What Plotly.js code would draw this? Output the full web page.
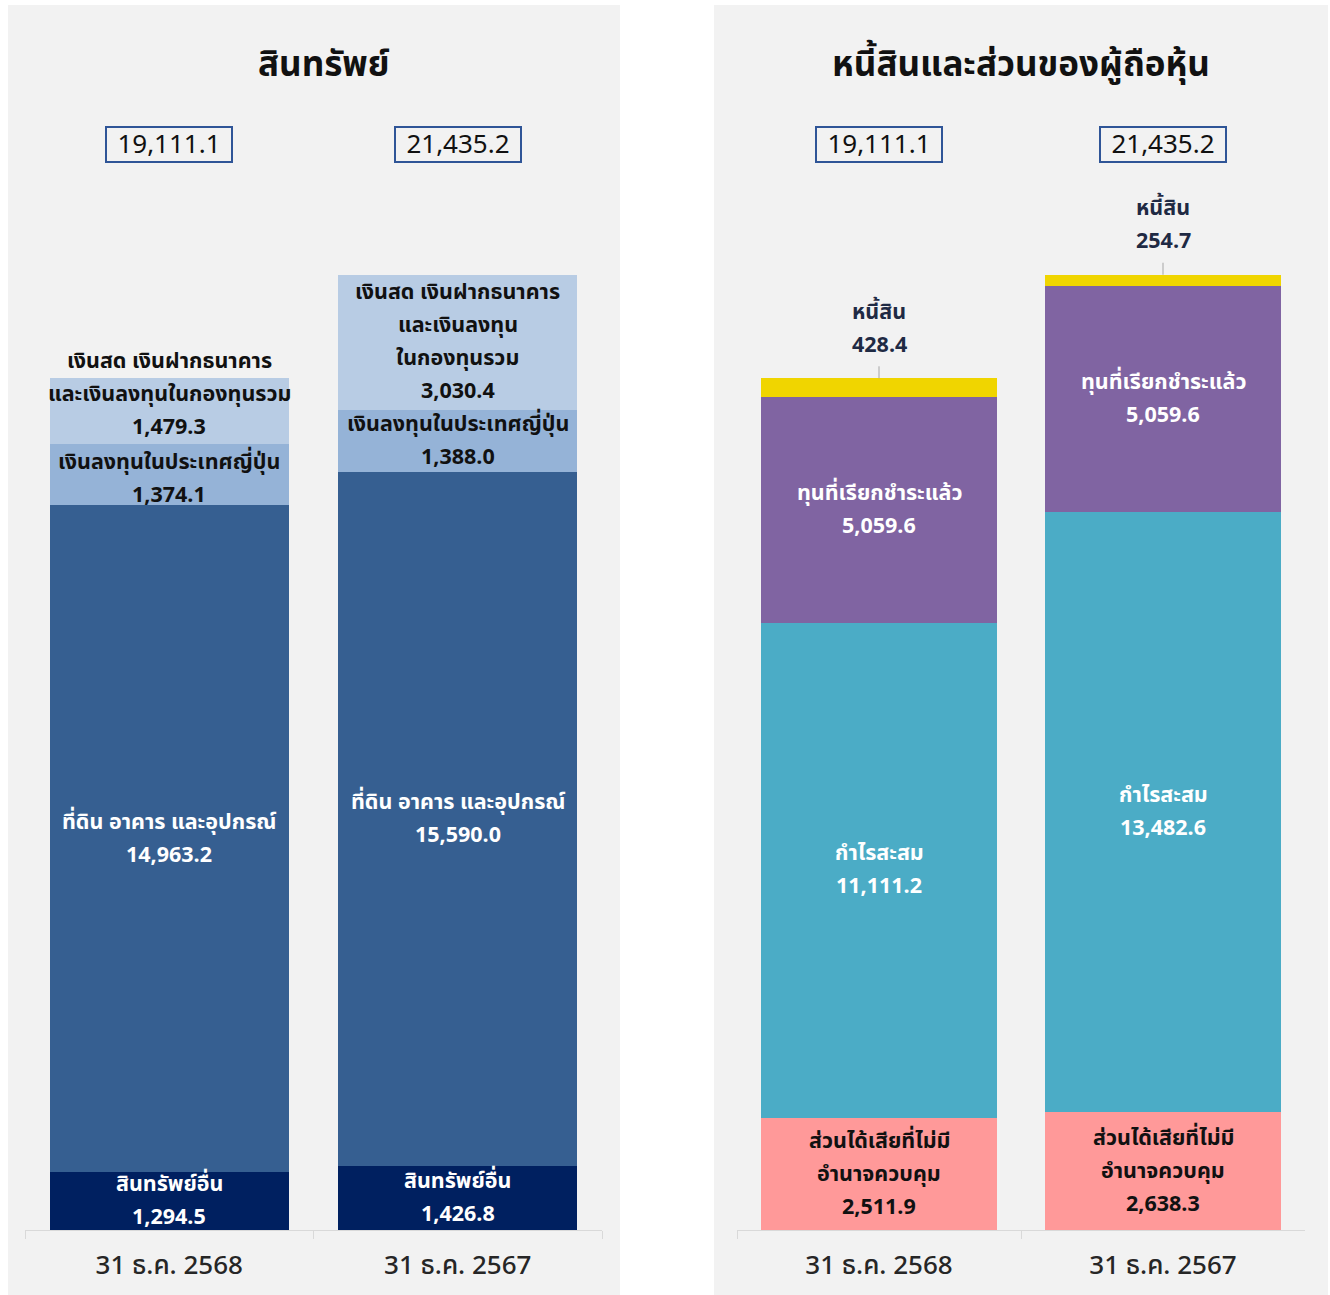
<!DOCTYPE html>
<html>
<head>
<meta charset="utf-8">
<script src="https://cdn.plot.ly/plotly-3.0.1.min.js"></script>
<style>html,body{margin:0;padding:0;background:#fff;}#chart{width:1330px;height:1295px;}</style>
</head>
<body>
<div id="chart"></div>
<script>
// ---- data ----
const categories = ['31 ธ.ค. 2568', '31 ธ.ค. 2567'];
const totals = [19111.1, 21435.2];

// assets (bottom to top)
const assetOther = [1294.5, 1426.8];
const assetPPE = [14963.2, 15590.0];
const assetJapan = [1374.1, 1388.0];
const assetCash = [1479.3, 3030.4];

// liabilities and equity (bottom to top)
const eqNCI = [2511.9, 2638.3];
const eqRetained = [11111.2, 13482.6];
const eqPaidUp = [5059.6, 5059.6];
const liabilities = [428.4, 254.7];

// segment label lines, per category
const lblAssetOther = [['สินทรัพย์อื่น'], ['สินทรัพย์อื่น']];
const lblAssetPPE = [['ที่ดิน อาคาร และอุปกรณ์'], ['ที่ดิน อาคาร และอุปกรณ์']];
const lblAssetJapan = [['เงินลงทุนในประเทศญี่ปุ่น'], ['เงินลงทุนในประเทศญี่ปุ่น']];
const lblAssetCash = [['เงินสด เงินฝากธนาคาร', 'และเงินลงทุนในกองทุนรวม'], ['เงินสด เงินฝากธนาคาร', 'และเงินลงทุน', 'ในกองทุนรวม']];
const lblNCI = [['ส่วนได้เสียที่ไม่มี', 'อำนาจควบคุม'], ['ส่วนได้เสียที่ไม่มี', 'อำนาจควบคุม']];
const lblRetained = [['กำไรสะสม'], ['กำไรสะสม']];
const lblPaidUp = [['ทุนที่เรียกชำระแล้ว'], ['ทุนที่เรียกชำระแล้ว']];
const lblLiab = [['หนี้สิน'], ['หนี้สิน']];

const titleAssets = 'สินทรัพย์';
const titleLiabEq = 'หนี้สินและส่วนของผู้ถือหุ้น';

// ---- styling ----
const FONT = 'Noto Sans Thai, Noto Sans, sans-serif';
const fmt = v => v.toLocaleString('en-US', {minimumFractionDigits: 1, maximumFractionDigits: 1});
const LINE = 33;
const LBL = 21.5;

const leftSeries = [
  {vals: assetOther, lbl: lblAssetOther, color: '#002060', txt: '#ffffff'},
  {vals: assetPPE, lbl: lblAssetPPE, color: '#365f91', txt: '#ffffff'},
  {vals: assetJapan, lbl: lblAssetJapan, color: '#95b3d7', txt: '#111111', extraShift: [-4, 0]},
  {vals: assetCash, lbl: lblAssetCash, color: '#b8cce4', txt: '#111111', extraShift: [17, 0]}
];
const rightSeries = [
  {vals: eqNCI, lbl: lblNCI, color: '#ff9999', txt: '#111111'},
  {vals: eqRetained, lbl: lblRetained, color: '#4bacc6', txt: '#ffffff'},
  {vals: eqPaidUp, lbl: lblPaidUp, color: '#8064a2', txt: '#ffffff'},
  {vals: liabilities, lbl: lblLiab, color: '#f0d500', txt: '#1f2a44', above: true}
];

const traces = [];
const annotations = [];
const shapes = [];

function addPanel(series, xa, ya) {
  const base = [0, 0];
  series.forEach(s => {
    traces.push({
      type: 'bar', x: categories, y: s.vals, xaxis: xa, yaxis: ya,
      marker: {color: s.color, line: {width: 0}}, hoverinfo: 'skip', showlegend: false
    });
    categories.forEach((c, i) => {
      const lines = s.lbl[i].concat([fmt(s.vals[i])]);
      const n = lines.length;
      if (s.above) {
        const top = base[i] + s.vals[i];
        lines.forEach((t, k) => {
          annotations.push({
            xref: xa, yref: ya, x: c, y: top, text: '<b>' + t + '</b>', showarrow: false,
            xanchor: 'center', yanchor: 'middle', yshift: 33 + (n - 1 - k) * LINE,
            font: {family: FONT, size: LBL, color: s.txt}
          });
        });
        shapes.push({
          type: 'line', xref: xa, yref: ya, x0: c, x1: c, ysizemode: 'pixel', yanchor: top,
          y0: 0, y1: 12, line: {color: '#a6a6a6', width: 1}
        });
      } else {
        const mid = base[i] + s.vals[i] / 2;
        const extra = s.extraShift ? s.extraShift[i] : 0;
        lines.forEach((t, k) => {
          annotations.push({
            xref: xa, yref: ya, x: c, y: mid, text: '<b>' + t + '</b>', showarrow: false,
            xanchor: 'center', yanchor: 'middle', yshift: ((n - 1) / 2 - k) * LINE + extra,
            font: {family: FONT, size: LBL, color: s.txt}
          });
        });
      }
      base[i] += s.vals[i];
    });
  });
  // total boxes
  categories.forEach((c, i) => {
    annotations.push({
      xref: xa, yref: 'paper', x: c, y: (1295 - 144) / 1295, xanchor: 'center', yanchor: 'middle',
      text: fmt(totals[i]), showarrow: false, width: 122, height: 31, align: 'center', valign: 'middle',
      font: {family: FONT, size: 26, color: '#111111'},
      bordercolor: '#2f5597', borderwidth: 2, borderpad: 1
    });
  });
}

addPanel(leftSeries, 'x', 'y');
addPanel(rightSeries, 'x2', 'y2');

// panel titles
annotations.push({xref: 'paper', yref: 'paper', x: 324 / 1330, y: (1295 - 66) / 1295, xanchor: 'center', yanchor: 'middle',
  text: '<b>' + titleAssets + '</b>', showarrow: false, font: {family: FONT, size: 35, color: '#111111'}});
annotations.push({xref: 'paper', yref: 'paper', x: 1021 / 1330, y: (1295 - 66) / 1295, xanchor: 'center', yanchor: 'middle',
  text: '<b>' + titleLiabEq + '</b>', showarrow: false, font: {family: FONT, size: 35, color: '#111111'}});

// panel backgrounds
shapes.unshift(
  {type: 'rect', xref: 'paper', yref: 'paper', x0: 8 / 1330, x1: 620 / 1330, y0: 0, y1: 1290 / 1295,
   fillcolor: '#f2f2f2', line: {width: 0}, layer: 'below'},
  {type: 'rect', xref: 'paper', yref: 'paper', x0: 714 / 1330, x1: 1328 / 1330, y0: 0, y1: 1290 / 1295,
   fillcolor: '#f2f2f2', line: {width: 0}, layer: 'below'}
);

const yDom = [(1295 - 1230) / 1295, 1];
const YMAX = 27600;
const xaxisBase = {
  type: 'category', showgrid: false, zeroline: false, showline: true, linecolor: '#d9d9d9', linewidth: 1,
  ticks: 'outside', tickson: 'boundaries', ticklen: 8, tickcolor: '#d9d9d9',
  tickfont: {family: FONT, size: 26, color: '#262626', weight: 500}, ticklabelstandoff: 12, fixedrange: true
};
const yaxisBase = {range: [0, YMAX], domain: yDom, visible: false, showgrid: false, zeroline: false, fixedrange: true};

const layout = {
  width: 1330, height: 1295, margin: {l: 0, r: 0, t: 0, b: 0},
  paper_bgcolor: '#ffffff', plot_bgcolor: 'rgba(0,0,0,0)',
  barmode: 'stack', bargap: 0.17,
  showlegend: false,
  font: {family: FONT},
  xaxis: Object.assign({}, xaxisBase, {domain: [25 / 1330, 602 / 1330], anchor: 'y'}),
  yaxis: Object.assign({}, yaxisBase, {anchor: 'x'}),
  xaxis2: Object.assign({}, xaxisBase, {domain: [737 / 1330, 1305 / 1330], anchor: 'y2'}),
  yaxis2: Object.assign({}, yaxisBase, {anchor: 'x2'}),
  annotations: annotations,
  shapes: shapes
};

Plotly.newPlot('chart', traces, layout, {displayModeBar: false, staticPlot: true});
</script>
</body>
</html>
